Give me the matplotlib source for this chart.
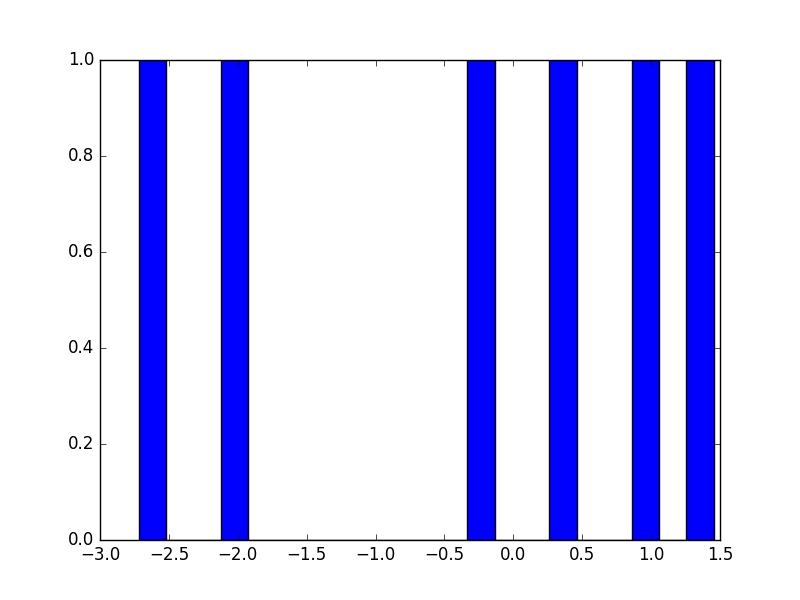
import numpy as np
import matplotlib
matplotlib.use('Agg')
import matplotlib.pyplot as plt

plt.style.use('classic')

# サンプル値（ヒストグラム用）
values = [-2.72, -2.03, -0.24, 0.36, 0.95, 1.454]
n_bins = 21

fig, ax = plt.subplots(figsize=(8, 6), dpi=100)
ax.hist(values, bins=n_bins, color='blue', edgecolor='black')

fig.savefig('out.png', dpi=100)
